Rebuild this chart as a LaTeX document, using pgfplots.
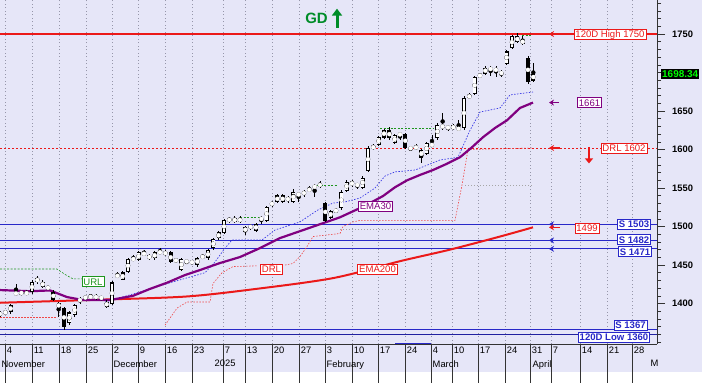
\documentclass[border=0pt]{standalone}
\usepackage{pgfplots}
\pgfplotsset{compat=1.18}
\usepackage{pgfplotstable}
\usepackage{fontspec}
\setmainfont{Liberation Sans}
\usetikzlibrary{arrows.meta}
\definecolor{lav}{RGB}{230,230,248}
\definecolor{gridc}{RGB}{150,150,170}
\definecolor{emapur}{RGB}{128,0,128}
\definecolor{emared}{RGB}{235,25,25}
\definecolor{sblue}{RGB}{40,40,200}
\definecolor{urlg}{RGB}{30,150,30}
\definecolor{gdg}{RGB}{0,140,40}
\definecolor{pgreen}{RGB}{0,255,0}
\definecolor{dotblue}{RGB}{60,60,230}
\tikzset{lbl/.style={draw, fill=white, inner xsep=1.4bp, inner ysep=1.5bp, text height=7bp, text depth=0bp, line width=0.6bp, font=\fontsize{9.6}{10}\selectfont}}

\pgfplotstableread{
i o h l c
0 1385 1390 1383 1388
1 1387 1392 1385 1390
2 1389 1400 1387 1398
3 1412 1426 1410 1414
4 1413 1416 1411 1414.5
5 1414 1417 1411 1413
6 1415 1430 1413 1428
7 1428 1436 1426 1433
8 1428 1431 1420 1422
9 1421 1423 1418 1420
10 1415 1417 1403 1405
11 1400 1402 1383 1395
12 1394 1396 1365 1370
13 1375 1390 1372 1388
14 1385 1400 1383 1398
15 1403 1408 1400 1406
16 1407 1411 1404 1408.5
17 1408 1413 1406 1409.5
18 1409 1412 1405 1408
19 1408 1410 1404 1406.8
20 1402 1405 1394 1396
21 1400 1429 1398 1427
22 1435 1441 1433 1437
23 1431 1442 1430 1440
24 1441 1459 1440 1457
25 1457 1463 1455 1458.5
26 1457 1468 1455 1466
27 1464 1470 1462 1465.3
28 1459 1464 1457 1462
29 1459 1468 1457 1466
30 1466 1472 1464 1467.3
31 1466 1469 1462 1464.8
32 1466 1468 1452 1454
33 1455 1459 1453 1457
34 1444 1459 1442 1457
35 1454 1457 1451 1455.3
36 1453 1456 1451 1454.3
37 1450 1461 1448 1459
38 1460 1464 1458 1461.3
39 1459 1471 1457 1469
40 1472 1485 1470 1483
41 1485 1494 1483 1492
42 1492 1510 1490 1508
43 1508 1513 1505 1509.3
44 1506 1514 1504 1511
45 1511 1514 1504 1506
46 1499 1501 1489 1493
47 1499 1503 1496 1500.3
48 1495 1505 1493 1503
49 1509 1514 1503 1511
50 1508 1527 1506 1525
51 1528 1533 1526 1531
52 1532 1542 1530 1540
53 1540 1542 1530 1532
54 1535 1540 1531 1536.3
55 1532 1549 1530 1545
56 1541 1545 1532 1542.3
57 1541 1548 1539 1546
58 1547 1552 1545 1548.5
59 1551 1555 1538 1552.3
60 1556 1559 1550 1552
61 1530 1532 1506 1508
62 1512 1522 1510 1520
63 1520 1524 1517 1521.3
64 1524 1547 1522 1545
65 1547 1560 1545 1558
66 1558 1561 1552 1554
67 1553 1557 1549 1555
68 1551 1565 1549 1563
69 1573 1604 1571 1602
70 1602 1607 1600 1604
71 1606 1618 1604 1616
72 1616 1627 1614 1625
73 1625 1629 1613 1615
74 1609 1620 1607 1618
75 1619 1622 1612 1620.3
76 1620 1622 1601 1603
77 1601 1604 1598 1602.3
78 1602 1607 1599 1603.3
79 1590 1601 1583 1599
80 1595 1610 1593 1608
81 1605 1619 1603 1607
82 1615 1634 1613 1632
83 1632 1647 1626 1628
84 1628 1632 1624 1629.3
85 1627 1633 1625 1631
86 1626 1639 1624 1628
87 1628 1669 1626 1667
88 1667 1674 1665 1671
89 1673 1696 1671 1694
90 1695 1700 1693 1697
91 1699 1708 1697 1706
92 1704 1708 1696 1705.3
93 1701 1709 1694 1706
94 1700 1703 1694 1698.7
95 1712 1729 1710 1727
96 1732 1749 1730 1747
97 1740 1751 1738 1747
98 1742 1747 1736 1738
99 1719 1721 1685 1688
100 1690 1712 1688 1698.34
}\candles

\begin{document}
\begin{tikzpicture}
\fill[white] (0,0) rectangle (702bp,383bp);
\fill[lav] (0,11bp) rectangle (702bp,383bp);
\path[use as bounding box] (0,0) rectangle (702bp,383bp);
\begin{axis}[
  at={(0,39bp)}, anchor=south west,
  scale only axis, width=657bp, height=344bp,
  xmin=0, xmax=657, ymin=1347.4, ymax=1794.2,
  axis x line*=bottom, axis y line*=right,
  axis line style={black!80, line width=0.7bp},
  clip=false,
  tick align=outside, major tick length=8bp, minor tick length=4bp,
  tick style={black!80, line width=0.6bp},
  xtick={5,32,59,86,112,138,165,192,223,245,272,299,325,352,378,405,431,452,478,505,530,551,580,607,632},
  xticklabels={4,11,18,25,2,9,16,23,7,13,20,27,3,10,17,24,4,10,17,24,31,7,14,21,28},
  xtick style={draw=none},
  xmajorgrids, grid style={gridc, line width=0.5bp, dash pattern=on 1bp off 2.5bp},
  xticklabel style={font=\fontsize{9.4}{10}\selectfont, anchor=north west, inner sep=0pt, xshift=1.6bp, yshift=5bp},
  ytick={1400,1450,1500,1550,1600,1650,1750},
  extra y ticks={1700}, extra y tick labels={},
  minor ytick={1350,1360,...,1790},
  yticklabel style={font=\fontsize{9.4}{10}\selectfont\bfseries, anchor=west, inner sep=0pt, xshift=7bp},
  /pgf/number format/assume math mode=true,
  /pgf/number format/1000 sep={},
]
% horizontal levels
\addplot[emared, line width=1.3bp] coordinates {(0,1750) (657,1750)};
\addplot[emared, line width=0.7bp, dash pattern=on 2bp off 2bp] coordinates {(0,1602) (657,1602)};
\addplot[sblue, line width=0.8bp] coordinates {(0,1503) (657,1503)};
\addplot[sblue, line width=0.8bp] coordinates {(0,1482) (657,1482)};
\addplot[sblue, line width=0.8bp] coordinates {(0,1471) (657,1471)};
\addplot[sblue, line width=0.8bp] coordinates {(0,1367) (657,1367)};
\addplot[sblue!80!black, line width=1.2bp] coordinates {(0,1360) (657,1360)};
\addplot[sblue, line width=1.5bp] coordinates {(395,1348.2) (431,1348.2)};

% DRL step line
\addplot[emared!80, line width=0.6bp, dash pattern=on 1.5bp off 1.5bp] coordinates {(0,1382.5) (57,1382.5)};
\addplot[emared!80, line width=0.6bp, dash pattern=on 1.5bp off 1.5bp] coordinates {
(165,1372) (177,1394) (187,1402) (210,1402) (213,1426) (222,1440) (233,1448) (258,1449)};
\addplot[emared!80, line width=0.6bp, dash pattern=on 1.5bp off 1.5bp] coordinates {
(285,1450) (293,1452) (300,1461) (307,1474) (313,1487) (340,1491) (343,1500) (353,1506) (360,1508) (455,1508) (462,1554) (468,1600) (533,1602)};
\addplot[gray!70, line width=0.6bp, dash pattern=on 1bp off 2bp] coordinates {(340,1497) (455,1497)};
\addplot[gray!70, line width=0.6bp, dash pattern=on 1bp off 2bp] coordinates {(465,1553) (533,1553)};

% URL segments
\addplot[urlg, line width=0.6bp, dash pattern=on 2bp off 1.5bp] coordinates {(0,1444.8) (57,1444.8) (66,1437) (73,1432) (82,1432)};
\addplot[urlg, line width=0.6bp, dash pattern=on 2bp off 1.5bp] coordinates {(240,1512) (262,1512)};
\addplot[urlg, line width=0.6bp, dash pattern=on 2bp off 1.5bp] coordinates {(317,1554) (337,1554)};
\addplot[urlg, line width=0.6bp, dash pattern=on 2bp off 1.5bp] coordinates {(380,1628) (433,1628)};
\addplot[urlg, line width=0.6bp, dash pattern=on 2bp off 1.5bp] coordinates {(522,1748) (531,1748)};

% blue dotted trailing line
\addplot[dotblue, line width=0.7bp, dash pattern=on 1.5bp off 1.5bp] coordinates {
(105,1402) (140,1415) (170,1427) (205,1440) (215,1454) (225,1472) (232,1482.5) (262,1482.5) (275,1495.5) (300,1506) (318,1521.6) (333,1530.5) (345,1532) (360,1537) (375,1550) (385,1565.6) (395,1571) (415,1573.4) (440,1586.4) (458,1590) (470,1625) (480,1648.7) (500,1654) (510,1671) (533,1674.7)};

% EMA200
\addplot[emared, line width=2bp, smooth] coordinates {
(0,1401) (100,1405) (185,1409) (250,1418) (333,1433) (400,1455) (450,1470) (500,1487) (533,1499)};
% EMA30
\addplot[emapur, line width=2.2bp] coordinates {
(0,1417.5) (30,1416) (50,1417) (67,1408.4) (83,1404.5) (110,1404.5) (133,1410) (150,1419) (167,1427) (185,1437) (200,1443.5) (220,1452.6) (240,1460.4) (260,1472) (280,1485) (300,1494) (320,1503) (340,1512) (360,1524) (370,1530.5) (383,1539.6) (395,1551) (407,1560) (420,1567) (433,1573.4) (446,1581) (460,1590) (472,1603) (483,1616) (495,1628) (507,1638) (520,1654) (533,1661)};

% candles: wicks
\addplot[black, only marks, mark=none, error bars/.cd, y dir=both, y explicit, error mark=none,
  error bar style={black, line width=0.8bp}]
  table[x expr=\thisrow{i}*5.333, y expr={(\thisrow{h}+\thisrow{l})/2}, y error expr={(\thisrow{h}-\thisrow{l})/2}] {\candles};
% bodies
\addplot[black, only marks, mark=none, error bars/.cd, y dir=both, y explicit, error mark=none,
  error bar style={black, line width=4bp}]
  table[x expr=\thisrow{i}*5.333, y expr={(\thisrow{o}+\thisrow{c})/2}, y error expr={abs(\thisrow{c}-\thisrow{o})/2+0.4}] {\candles};
\addplot[white, only marks, mark=none, error bars/.cd, y dir=both, y explicit, error mark=none,
  error bar style={white, line width=2.5bp}]
  table[x expr=\thisrow{i}*5.333, y expr={(\thisrow{o}+\thisrow{c})/2}, y error expr={max(\thisrow{c}-\thisrow{o}-2,0)/2}] {\candles};

% arrows
\addplot[emared, line width=1.2bp, -{Stealth[length=5bp,width=6bp]}] coordinates {(560,1750) (549,1750)};
\addplot[emapur, line width=1.2bp, -{Stealth[length=5bp,width=6bp]}] coordinates {(559,1661) (549,1661)};
\addplot[emared, line width=1.2bp, -{Stealth[length=5bp,width=6bp]}] coordinates {(560,1602) (549,1602)};
\addplot[sblue, line width=1.2bp, -{Stealth[length=5bp,width=6bp]}] coordinates {(560,1503) (549,1503)};
\addplot[emared, line width=1.2bp, -{Stealth[length=5bp,width=6bp]}] coordinates {(560,1499) (549,1499)};
\addplot[sblue, line width=1.2bp, -{Stealth[length=5bp,width=6bp]}] coordinates {(560,1482) (549,1482)};
\addplot[sblue, line width=1.2bp, -{Stealth[length=5bp,width=6bp]}] coordinates {(560,1471) (549,1471)};
\addplot[emared, line width=2.2bp, -{Triangle[length=5bp,width=8bp]}] coordinates {(589,1603) (589,1582)};
\addplot[gdg, line width=3bp, -{Triangle[length=7bp,width=10bp]}] coordinates {(337,1758) (337,1783)};

% labels
\node[lbl, draw=emared, text=emared] at (axis cs:610,1750) {120D High 1750};
\node[lbl, draw=emapur, text=emapur] at (axis cs:589.5,1661) {1661};
\node[lbl, draw=emared, text=emared] at (axis cs:624,1602) {DRL 1602};
\node[lbl, draw=sblue, text=sblue, font=\fontsize{9.6}{10}\selectfont\bfseries] at (axis cs:634,1503.5) {S 1503};
\node[lbl, draw=emared, text=emared] at (axis cs:587,1498) {1499};
\node[lbl, draw=sblue, text=sblue, font=\fontsize{9.6}{10}\selectfont\bfseries] at (axis cs:634,1483) {S 1482};
\node[lbl, draw=sblue, text=sblue, font=\fontsize{9.6}{10}\selectfont\bfseries] at (axis cs:635,1467.5) {S 1471};
\node[lbl, draw=sblue, text=sblue, font=\fontsize{9.6}{10}\selectfont\bfseries] at (axis cs:630.5,1372) {S 1367};
\node[lbl, draw=sblue, text=sblue, font=\fontsize{9.6}{10}\selectfont\bfseries] at (axis cs:614,1356.5) {120D Low 1360};
\node[lbl, draw=emapur, text=emapur] at (axis cs:375.5,1526.6) {EMA30};
\node[lbl, draw=emared, text=emared] at (axis cs:377.5,1444.8) {EMA200};
\node[lbl, draw=emared, text=emared] at (axis cs:271.5,1444.8) {DRL};
\node[lbl, draw=urlg, text=urlg] at (axis cs:93,1428.6) {URL};
\node[text=gdg, font=\fontsize{15}{16}\selectfont\bfseries, inner sep=0pt] at (axis cs:316.5,1771) {GD};
\node[fill=black, text=pgreen, anchor=west, inner xsep=1bp, inner ysep=1.5bp, text height=7bp, text depth=0bp, font=\fontsize{10}{11}\selectfont\bfseries] at (axis cs:661,1698.34) {1698.34};

% date rows: separators and month names
\pgfplotsinvokeforeach{5,32,59,86,112,138,165,192,223,245,272,299,325,352,378,405,431,452,478,505,530,551,580,607,632}{
  \draw[black!80, line width=0.6bp] (axis cs:#1,1347.4) -- ++(0,-13bp);
}
\pgfplotsinvokeforeach{0.3,112,213,325,431,531,649}{
  \draw[black!80, line width=0.6bp] (axis cs:#1,1347.4) ++(0,-13bp) -- ++(0,-13bp);
}
\node[anchor=north west, inner sep=0pt, font=\fontsize{9.4}{10}\selectfont] at ([xshift=1.5bp,yshift=-16bp]axis cs:0,1347.4) {November};
\node[anchor=north west, inner sep=0pt, font=\fontsize{9.4}{10}\selectfont] at ([xshift=1.5bp,yshift=-16bp]axis cs:112,1347.4) {December};
\node[anchor=north west, inner sep=0pt, font=\fontsize{9.4}{10}\selectfont] at ([xshift=1.5bp,yshift=-16bp]axis cs:213,1347.4) {2025};
\node[anchor=north west, inner sep=0pt, font=\fontsize{9.4}{10}\selectfont] at ([xshift=1.5bp,yshift=-16bp]axis cs:325,1347.4) {February};
\node[anchor=north west, inner sep=0pt, font=\fontsize{9.4}{10}\selectfont] at ([xshift=1.5bp,yshift=-16bp]axis cs:431,1347.4) {March};
\node[anchor=north west, inner sep=0pt, font=\fontsize{9.4}{10}\selectfont] at ([xshift=1.5bp,yshift=-16bp]axis cs:531,1347.4) {April};
\node[anchor=north west, inner sep=0pt, font=\fontsize{9.4}{10}\selectfont] at ([xshift=1.5bp,yshift=-16bp]axis cs:649,1347.4) {M};
\end{axis}
\end{tikzpicture}
\end{document}
